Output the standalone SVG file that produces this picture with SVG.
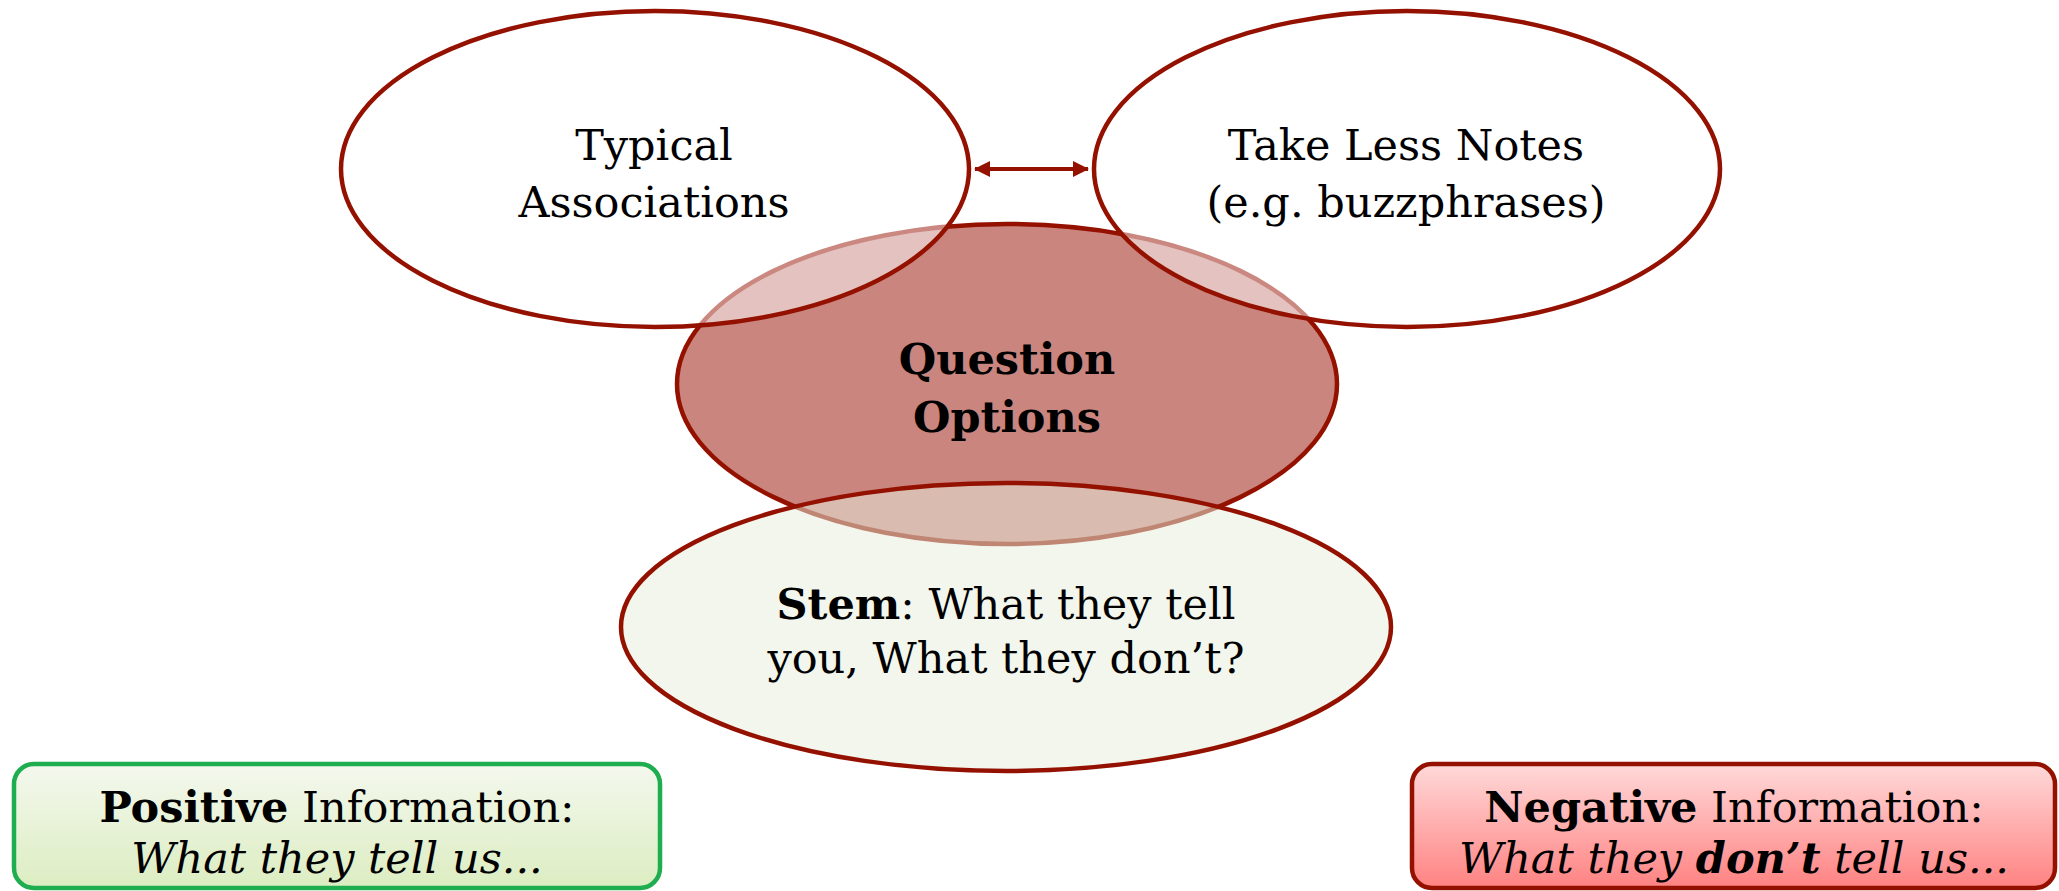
<svg xmlns="http://www.w3.org/2000/svg" width="2059" height="891" viewBox="0 0 2059 891">
<defs>
<style>
text{font-family:"DejaVu Serif","Liberation Serif",serif;font-size:43px;fill:#000;text-anchor:middle}
.b{font-weight:bold}
.i{font-style:italic}
.ell{stroke:#941100;stroke-width:4.5}
</style>
<linearGradient id="gpos" x1="0" y1="0" x2="0" y2="1">
<stop offset="0" stop-color="#f4f8ee"/>
<stop offset="1" stop-color="#dcedc1"/>
</linearGradient>
<linearGradient id="gneg" x1="0" y1="0" x2="0" y2="1">
<stop offset="0" stop-color="#ffd9d9"/>
<stop offset="1" stop-color="#ff8282"/>
</linearGradient>
<marker id="ah" viewBox="0 0 16 16" refX="15" refY="8" markerWidth="16" markerHeight="16" markerUnits="userSpaceOnUse" orient="auto-start-reverse">
<path d="M0,0 L16,8 L0,16 Z" fill="#941100"/>
</marker>
</defs>
<rect width="2059" height="891" fill="#fff"/>
<g id="question-options">
<ellipse class="ell" cx="1007" cy="384" rx="330" ry="160" fill="#c9857e"/>
</g>
<g id="typical-associations">
<ellipse class="ell" cx="655" cy="169" rx="314" ry="158" fill="#fff" fill-opacity="0.5"/>
<text x="654" y="160">Typical</text>
<text x="654" y="217">Associations</text>
</g>
<g id="take-less-notes">
<ellipse class="ell" cx="1407" cy="169" rx="313" ry="158" fill="#fff" fill-opacity="0.5"/>
<text x="1406" y="160">Take Less Notes</text>
<text x="1406" y="217">(e.g. buzzphrases)</text>
</g>
<g id="stem">
<ellipse class="ell" cx="1006" cy="627" rx="385" ry="144" fill="#e6eedb" fill-opacity="0.53"/>
<text x="1006" y="619"><tspan class="b">Stem</tspan>: What they tell</text>
<text x="1006" y="673">you, What they don’t?</text>
</g>
<g id="question-options-label">
<text class="b" x="1007" y="374" font-size="44">Question</text>
<text class="b" x="1007" y="432" font-size="44">Options</text>
</g>
<g id="positive-info">
<rect x="14" y="764" width="646" height="124" rx="20" fill="url(#gpos)" stroke="#1fae4f" stroke-width="4.5"/>
<text x="337" y="822" font-size="44"><tspan class="b">Positive</tspan> Information:</text>
<text class="i" x="337" y="873" font-size="44">What they tell us...</text>
</g>
<g id="negative-info">
<rect x="1412" y="764" width="643" height="124" rx="20" fill="url(#gneg)" stroke="#941100" stroke-width="4.5"/>
<text x="1734" y="822" font-size="44"><tspan class="b">Negative</tspan> Information:</text>
<text class="i" x="1734" y="873" font-size="44">What they <tspan class="b">don’t</tspan> tell us...</text>
</g>
<g id="connectors">
<line x1="975" y1="169" x2="1088" y2="169" stroke="#941100" stroke-width="4" marker-start="url(#ah)" marker-end="url(#ah)"/>
</g>
</svg>
